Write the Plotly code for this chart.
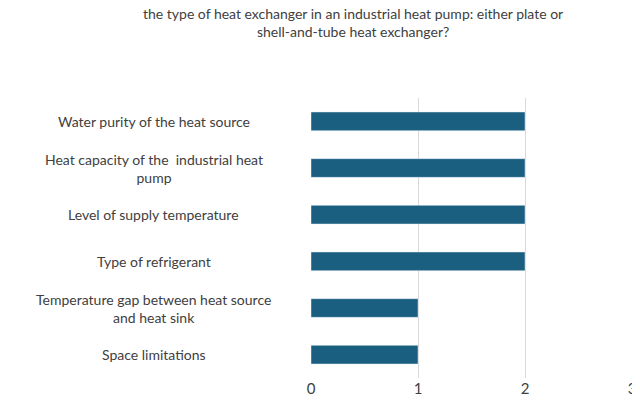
import plotly.graph_objects as go

categories = [
    "Water purity of the heat source",
    "Heat capacity of the  industrial heat<br>pump",
    "Level of supply temperature",
    "Type of refrigerant",
    "Temperature gap between heat source<br>and heat sink",
    "Space limitations",
]
values = [2, 2, 2, 2, 1, 1]
title = ("Which two technical parameters are most essential for the choice of<br>"
         "the type of heat exchanger in an industrial heat pump: either plate or<br>"
         "shell-and-tube heat exchanger?")

fig = go.Figure(go.Bar(
    x=values, y=categories, orientation="h",
    marker=dict(color="#1A5E80"),
))
fig.update_layout(
    width=640, height=410,
    margin=dict(l=303, r=16, t=90, b=40, autoexpand=False),
    bargap=0.6,
    paper_bgcolor="white", plot_bgcolor="white",
    font=dict(family="Lato", size=14, color="#404040"),
    showlegend=False,
)
fig.add_annotation(text=title, xref="paper", yref="paper", x=0.13, y=1.3,
                   xanchor="center", yanchor="middle", showarrow=False,
                   align="center", font=dict(size=14, color="#404040"))
for c in categories:
    fig.add_annotation(text=c, xref="paper", yref="y", x=-0.49, y=c,
                       xanchor="center", showarrow=False, align="center",
                       font=dict(size=14, color="#404040"))
fig.update_xaxes(range=[0, 3], dtick=1, showgrid=True, gridcolor="#D9D9D9",
                 zeroline=False, ticks="", tickfont=dict(size=15), automargin=False)
fig.update_yaxes(autorange="reversed", showgrid=False, ticks="",
                 showticklabels=False, showline=False, automargin=False)
fig.write_html("out.html")
